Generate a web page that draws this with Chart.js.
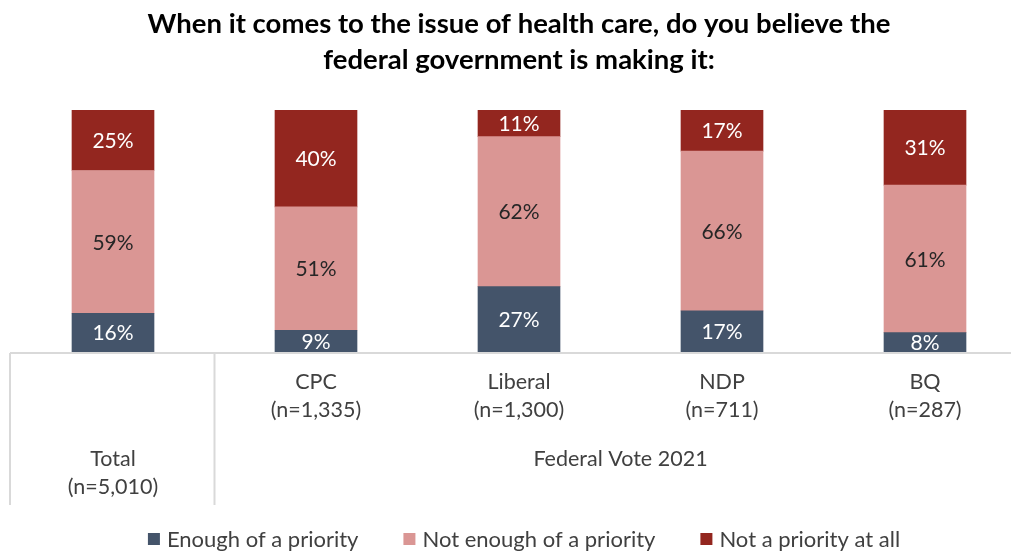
<!DOCTYPE html>
<html><head><meta charset="utf-8">
<script src="https://cdn.jsdelivr.net/npm/chart.js@4.4.0/dist/chart.umd.min.js"></script>
<style>
html,body{margin:0;padding:0;background:#fff;overflow:hidden}
#wrap{width:1040px;height:552px;position:relative}
</style></head><body><div id="wrap"><canvas id="c"></canvas></div>
<script>
// Survey responses by group (percent)
const categories = ['Total', 'CPC', 'Liberal', 'NDP', 'BQ'];
const sampleSizes = ['(n=5,010)', '(n=1,335)', '(n=1,300)', '(n=711)', '(n=287)'];
const groupLabel = 'Federal Vote 2021';
const enoughPriority = [16, 9, 27, 17, 8];
const notEnoughPriority = [59, 51, 62, 66, 61];
const notPriority = [25, 40, 11, 17, 31];
const seriesNames = ['Enough of a priority', 'Not enough of a priority', 'Not a priority at all'];
const titleLines = ['When it comes to the issue of health care, do you believe the', 'federal government is making it:'];

const COLORS = ['#44546a', '#da9694', '#93261f'];
const LABEL_COLORS = ['#ffffff', '#262626', '#ffffff'];
const FONT = 'Lato, "Open Sans", sans-serif';
const TEXT = '#404040';

// Percent labels centred in each segment
const segmentLabels = {
  id: 'segmentLabels',
  afterDatasetsDraw(chart) {
    const ctx = chart.ctx;
    ctx.save();
    ctx.font = '21px ' + FONT;
    ctx.textAlign = 'center';
    ctx.textBaseline = 'middle';
    chart.data.datasets.forEach((ds, di) => {
      const meta = chart.getDatasetMeta(di);
      meta.data.forEach((bar, i) => {
        ctx.fillStyle = LABEL_COLORS[di];
        ctx.fillText(ds.data[i] + '%', bar.x, (bar.y + bar.base) / 2 + 1);
      });
    });
    ctx.restore();
  }
};

// Table-style category axis (grid lines, two-level labels) and the legend row
const tableAxis = {
  id: 'tableAxis',
  afterDraw(chart) {
    const ctx = chart.ctx;
    const area = chart.chartArea;
    const x = chart.scales.x;
    const step = x.getPixelForValue(1) - x.getPixelForValue(0);
    const left = area.left - 1.5;
    const split = x.getPixelForValue(0) + step / 2;
    const top = area.bottom + 1;
    const depth = 152;
    ctx.save();
    ctx.strokeStyle = '#d9d9d9';
    ctx.lineWidth = 2;
    ctx.beginPath();
    ctx.moveTo(left, top); ctx.lineTo(chart.width, top);
    ctx.moveTo(left, top); ctx.lineTo(left, top + depth);
    ctx.moveTo(split, top); ctx.lineTo(split, top + depth);
    ctx.stroke();

    ctx.fillStyle = TEXT;
    ctx.font = '21.5px ' + FONT;
    ctx.textAlign = 'center';
    ctx.textBaseline = 'middle';
    categories.forEach((c, i) => {
      const cx = x.getPixelForValue(i);
      const y0 = i === 0 ? top + 106 : top + 29;
      ctx.fillText(c, cx, y0);
      ctx.fillText(sampleSizes[i], cx, y0 + 28);
    });
    const gx = (split + area.right) / 2;
    ctx.fillText(groupLabel, gx, top + 106);

    // legend
    ctx.font = '22px ' + FONT;
    ctx.textAlign = 'left';
    const box = 12, gapText = 7, gapItem = 45;
    const widths = seriesNames.map(n => ctx.measureText(n).width);
    const total = widths.reduce((a, w) => a + box + gapText + w, 0) + gapItem * (seriesNames.length - 1);
    let lx = (area.left + area.right) / 2 + 5 - total / 2;
    const ly = chart.height - 13;
    seriesNames.forEach((n, i) => {
      ctx.fillStyle = COLORS[i];
      ctx.fillRect(lx, ly - box / 2, box, box);
      ctx.fillStyle = TEXT;
      ctx.fillText(n, lx + box + gapText, ly + 1);
      lx += box + gapText + widths[i] + gapItem;
    });
    ctx.restore();
  }
};

new Chart(document.getElementById('c'), {
  type: 'bar',
  data: {
    labels: categories,
    datasets: [
      { label: seriesNames[0], data: enoughPriority, backgroundColor: COLORS[0] },
      { label: seriesNames[1], data: notEnoughPriority, backgroundColor: COLORS[1] },
      { label: seriesNames[2], data: notPriority, backgroundColor: COLORS[2] }
    ]
  },
  options: {
    responsive: true,
    maintainAspectRatio: false,
    animation: false,
    layout: { padding: { top: 6, left: 11.5, right: 13.5, bottom: 0 } },
    datasets: { bar: { barThickness: 82, borderWidth: 0 } },
    scales: {
      x: {
        stacked: true,
        grid: { display: false },
        border: { display: false },
        ticks: { display: false },
        afterFit(scale) { scale.height = 200; }
      },
      y: {
        stacked: true,
        display: false,
        min: 0,
        max: 100
      }
    },
    plugins: {
      title: {
        display: true,
        text: titleLines,
        color: '#000000',
        font: { family: FONT, size: 27.5, weight: 'bold', lineHeight: 1.31 },
        padding: { top: 0, bottom: 32 }
      },
      legend: { display: false },
      tooltip: { enabled: false }
    }
  },
  plugins: [segmentLabels, tableAxis]
});
</script>
</body></html>
